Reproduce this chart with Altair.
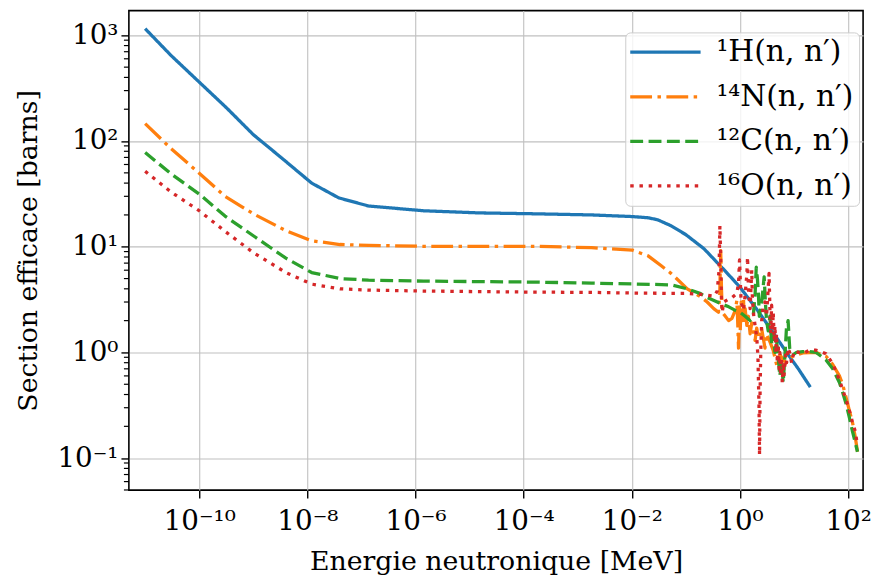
import altair as alt
import pandas as pd

SERIES = ["¹H(n, n′)", "¹⁴N(n, n′)", "¹²C(n, n′)", "¹⁶O(n, n′)"]
COLORS = ["#1f77b4", "#ff7f0e", "#2ca02c", "#d62728"]
DASHES = [[1, 0], [22, 5.5, 3.5, 5.5], [13, 5.5], [3.5, 5.8]]

# Energies in MeV, cross sections in barns
h_energy = [1e-11, 3e-11, 1e-10, 3.2e-10, 1e-9, 3.6e-9, 1.2e-8, 3.8e-8, 1.35e-7, 1.4e-6, 1.5e-5,
            1.6e-4, 1.8e-3, 0.0102, 0.02, 0.03, 0.053, 0.1, 0.215, 0.5, 0.98, 2.0, 3.6, 7.0, 12.0, 20.0]
h_sigma = [1156, 646, 361, 206, 115, 67, 40, 29, 24.3, 21.9, 20.9,
           20.5, 20.0, 19.3, 18.8, 18.0, 15.8, 13.0, 9.6, 6.1, 4.2, 2.6, 1.7, 1.03, 0.70, 0.47]

n_energy = [1e-11, 3e-11, 1e-10, 3e-10, 1e-9, 4e-9, 1.2e-8, 4e-8, 1.35e-7, 1.4e-6, 1.6e-4, 1.8e-3,
            0.0102, 0.02, 0.035, 0.053, 0.07, 0.106, 0.187, 0.247, 0.327, 0.40, 0.422, 0.44, 0.455, 0.47,
            0.536, 0.617, 0.71, 0.817, 0.875, 0.90, 0.94, 0.98, 1.01, 1.05, 1.10, 1.16, 1.2, 1.245,
            1.34, 1.43, 1.54, 1.65, 1.77, 1.9, 2.04, 2.19, 2.5, 2.9, 3.1, 3.6, 4.1, 4.9, 5.5, 6.3,
            7.2, 9.6, 14.6, 25.6, 39, 52, 69, 79, 91, 104, 120, 135, 149]
n_sigma = [146, 85, 49.6, 30, 20.5, 14.2, 11.4, 10.5, 10.3, 10.1, 10.1, 9.8,
           9.3, 8.2, 6.6, 5.6, 4.9, 4.0, 3.37, 3.0, 2.6, 2.4, 3.5, 9.2, 4.0, 2.4,
           2.2, 2.0, 2.1, 2.5, 3.1, 2.2, 1.1, 2.7, 1.6, 3.0, 2.0, 3.3, 1.9, 2.6,
           1.8, 2.2, 1.5, 1.9, 1.6, 1.3, 1.7, 1.35, 1.7, 1.1, 1.5, 1.25, 1.05, 0.72, 0.95, 0.85,
           0.8, 0.93, 0.99, 1.0, 0.92, 0.77, 0.6, 0.5, 0.38, 0.29, 0.22, 0.16, 0.115]

c_energy = [1e-11, 3e-11, 1e-10, 3e-10, 1e-9, 4e-9, 1.2e-8, 4e-8, 1.35e-7, 1.4e-6, 1.6e-4, 1.8e-3,
            0.0102, 0.053, 0.106, 0.187, 0.25, 0.33, 0.44, 0.62, 0.82, 1.0, 1.245, 1.54, 1.77, 1.9,
            2.0, 2.1, 2.19, 2.28, 2.52, 2.8, 2.95, 3.1, 3.33, 3.58, 3.85, 4.12, 4.43, 4.74, 5.09,
            5.46, 5.86, 6.3, 6.75, 7.24, 7.76, 8.3, 9.6, 11, 14.6, 19.4, 25.6, 39, 52, 69, 79, 91,
            104, 120, 149]
c_sigma = [78, 49, 31.5, 19.5, 12.7, 7.8, 5.7, 5.0, 4.83, 4.73, 4.63, 4.53,
           4.45, 4.36, 4.0, 3.6, 3.3, 3.1, 2.9, 2.7, 2.5, 2.4, 2.2, 2.0, 2.3, 3.5,
           6.4, 5.0, 3.6, 2.2, 3.0, 5.2, 3.0, 2.0, 1.6, 2.2, 1.2, 1.5, 1.0, 1.3, 0.9,
           0.6, 0.8, 0.52, 0.9, 1.7, 2.0, 1.1, 0.95, 1.0, 1.02, 1.02, 1.0, 0.85, 0.7, 0.52, 0.42, 0.33,
           0.25, 0.18, 0.115]

o_energy = [1e-11, 3e-11, 1e-10, 3e-10, 1e-9, 4e-9, 1.2e-8, 4e-8, 1.35e-7, 1.4e-6, 1.6e-4, 1.8e-3,
            0.0102, 0.053, 0.106, 0.187, 0.33, 0.38, 0.41, 0.425, 0.44, 0.455, 0.47, 0.5, 0.62,
            0.71, 0.87, 0.94, 0.98, 1.01, 1.05, 1.16, 1.245, 1.34, 1.38, 1.43, 1.54, 1.65, 1.7,
            1.8, 1.9, 2.04, 2.15, 2.25, 2.30, 2.35, 2.42, 2.52, 2.7, 2.9, 3.1, 3.45, 3.58, 3.7,
            3.85, 4.0, 4.12, 4.3, 4.43, 4.6, 4.74, 4.9, 5.09, 5.3, 5.46, 5.7, 5.86, 6.05, 6.3,
            6.5, 6.75, 7.0, 7.24, 7.76, 8.3, 9.0, 9.6, 10.5, 12, 14.6, 19.4, 25.6, 34, 39, 52,
            69, 79, 91, 104, 120, 135, 149]
o_sigma = [51.8, 33, 21.9, 14, 8.8, 5.7, 4.43, 4.0, 3.89, 3.81, 3.72, 3.70,
           3.65, 3.62, 3.62, 3.55, 3.4, 3.8, 6.0, 15.8, 8.0, 3.0, 2.4, 3.0, 3.2,
           3.3, 3.6, 4.5, 7.5, 5.0, 3.0, 2.5, 3.5, 5.5, 8.0, 4.0, 2.6, 6.0, 3.2,
           2.2, 1.8, 1.4, 0.9, 0.3, 0.107, 0.4, 1.0, 2.0, 2.8, 3.0, 2.2, 5.6, 2.5, 1.5,
           2.8, 1.6, 2.4, 1.3, 1.8, 1.0, 1.5, 0.8, 1.2, 0.7, 1.0, 0.6, 0.9, 0.52, 0.8,
           0.6, 0.75, 0.95, 0.8, 1.1, 1.0, 0.8, 0.93, 1.05, 1.0, 0.98, 1.05, 1.05, 1.0, 0.97, 0.78,
           0.55, 0.45, 0.36, 0.29, 0.22, 0.18, 0.133]

x_tick_exps = [-10, -8, -6, -4, -2, 0, 2]
y_tick_exps = [-1, 0, 1, 2, 3]
y_minor = [m * 10.0 ** k for k in range(-2, 4) for m in range(2, 10)]
X_DOMAIN = [5.0e-12, 189]
Y_DOMAIN = [0.0498, 1714]

SUP = str.maketrans("-0123456789", "⁻⁰¹²³⁴⁵⁶⁷⁸⁹")


def label_expr(exps):
    expr = "'10" + str(exps[-1]).translate(SUP) + "'"
    for e in reversed(exps[:-1]):
        expr = f"datum.value < {10.0 ** (e + 1):g} ? '10{str(e).translate(SUP)}' : " + expr
    return expr


frames = []
for name, en, sg in zip(SERIES, [h_energy, n_energy, c_energy, o_energy],
                        [h_sigma, n_sigma, c_sigma, o_sigma]):
    frames.append(pd.DataFrame({"energy": en, "sigma": sg, "series": name}))
df = pd.concat(frames, ignore_index=True)

minor_df = pd.DataFrame({"sigma": [v for v in y_minor if Y_DOMAIN[0] <= v <= Y_DOMAIN[1]]})

FONT = "DejaVu Serif"

xscale = alt.Scale(type="log", domain=X_DOMAIN, nice=False)
yscale = alt.Scale(type="log", domain=Y_DOMAIN, nice=False)

yaxis = alt.Axis(values=[10.0 ** e for e in y_tick_exps], labelExpr=label_expr(y_tick_exps),
                 labelPadding=3, titlePadding=15, title="Section efficace [barns]")

legend = alt.Legend(
    title=None, orient="none", legendX=501, legendY=22,
    symbolType="M-1.25,0L4.6667,0", symbolSize=576, symbolStrokeWidth=3.3,
    labelFont=FONT, labelFontSize=30, labelColor="black", labelOffset=57, labelLimit=400,
    rowPadding=15, padding=5, fillColor="rgba(255,255,255,0.8)", strokeColor="#cccccc",
    cornerRadius=5,
)

base = alt.Chart(df).mark_line(strokeWidth=3.3, strokeJoin="round").encode(
    x=alt.X("energy:Q", scale=xscale, title="Energie neutronique [MeV]",
            axis=alt.Axis(values=[10.0 ** e for e in x_tick_exps], labelExpr=label_expr(x_tick_exps),
                          labelPadding=10, titlePadding=13)),
    y=alt.Y("sigma:Q", scale=yscale, axis=yaxis),
    color=alt.Color("series:N", scale=alt.Scale(domain=SERIES, range=COLORS), legend=legend),
    strokeDash=alt.StrokeDash("series:N", scale=alt.Scale(domain=SERIES, range=DASHES), legend=legend),
)

layers = [base.transform_filter(alt.datum.series == s) for s in SERIES]

minor = alt.Chart(minor_df).mark_rule(color="black", strokeWidth=1.2).encode(
    y=alt.Y("sigma:Q", scale=yscale, axis=yaxis),
    x=alt.value(-5), x2=alt.value(0),
)

chart = alt.layer(minor, *layers).properties(
    width=741, height=484,
    autosize=alt.AutoSizeParams(type="none"),
    padding={"left": 122, "top": 0, "right": 9, "bottom": 83},
).configure_view(
    stroke="black", strokeWidth=1.6
).configure_axis(
    domain=False, grid=True, gridColor="#c0c0c0", gridWidth=1.1,
    tickColor="black", tickWidth=1.4, tickSize=8,
    labelFont=FONT, labelFontSize=28, labelColor="black",
    titleFont=FONT, titleFontSize=27, titleFontWeight="normal", titleColor="black",
)

chart.save("out.html", embed_options={"renderer": "svg", "actions": False})
